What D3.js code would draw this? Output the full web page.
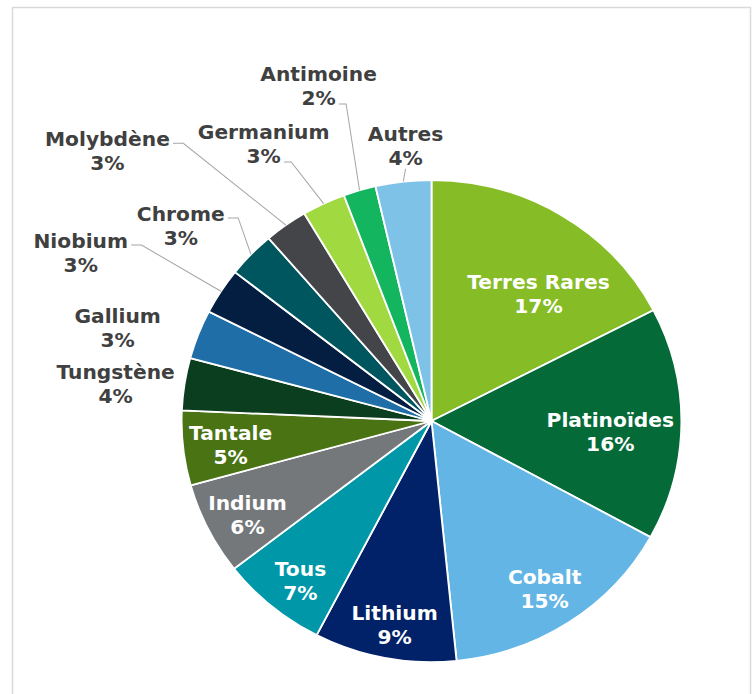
<!DOCTYPE html>
<html>
<head>
<meta charset="utf-8">
<script src="https://cdn.jsdelivr.net/npm/d3@7"></script>
<style>
  html, body { margin: 0; padding: 0; background: #fff; }
  svg text { font-family: Verdana, "DejaVu Sans", sans-serif; font-weight: bold; }
</style>
</head>
<body>
<svg id="chart" width="753" height="694"></svg>
<script>
// Répartition par métal (parts en %)
const names = ["Terres Rares", "Platinoïdes", "Cobalt", "Lithium", "Tous", "Indium",
  "Tantale", "Tungstène", "Gallium", "Niobium", "Chrome", "Molybdène",
  "Germanium", "Antimoine", "Autres"];
const values = [17.4, 15.6, 15.4, 9.2, 6.9, 6.2, 5.0, 3.5, 3.3, 3.1, 3.1, 2.8, 2.8, 2.1, 3.6];
const colors = ["#86bc25", "#046a38", "#62b5e5", "#012169", "#0097a9", "#75787b",
  "#4a7314", "#0b3d1f", "#1f6ea8", "#041e42", "#00565f", "#434548",
  "#a0d940", "#13b55f", "#7fc2e8"];

// label placement: angle (deg, clockwise from top) and radius factor
const labelLayout = {
  "Terres Rares": { a: 39.0, r: 0.68, inside: true },
  "Platinoïdes": { a: 93.6, r: 0.717, inside: true },
  "Cobalt": { a: 147.0, r: 0.831, inside: true },
  "Lithium": { a: 189.9, r: 0.859, inside: true },
  "Tous": { a: 218.3, r: 0.846, inside: true },
  "Indium": { a: 242.1, r: 0.833, inside: true },
  "Tantale": { a: 262.9, r: 0.81, inside: true },
  "Tungstène": { a: 276.9, r: 1.273, leader: false },
  "Gallium": { a: 287.1, r: 1.314, leader: false },
  "Niobium": { a: 296.4, r: 1.567, leader: true },
  "Chrome": { a: 308.9, r: 1.289, leader: true },
  "Molybdène": { a: 310.8, r: 1.713, leader: true },
  "Germanium": { a: 329.7, r: 1.331, leader: true },
  "Antimoine": { a: 342.0, r: 1.462, leader: true },
  "Autres": { a: 354.8, r: 1.146, leader: true },
};

const data = names.map((n, i) => ({ name: n, value: values[i], color: colors[i] }));

const radius = 241;
const stretchX = 1.037;
const fontSize = 19.5;
const lineGap = 12;

const svg = d3.select("#chart");

// chart frame
svg.append("rect")
  .attr("x", 12.5).attr("y", 7.5)
  .attr("width", 738).attr("height", 720)
  .attr("fill", "#fff")
  .attr("stroke", "#d9d9d9")
  .attr("stroke-width", 1.5);

const g = svg.append("g")
  .attr("transform", `translate(431.5,421) scale(${stretchX},1)`);

const pie = d3.pie().sort(null).value(d => d.value);
const arc = d3.arc().innerRadius(0).outerRadius(radius);
const arcs = pie(data);

g.selectAll("path.slice")
  .data(arcs)
  .join("path")
  .attr("class", "slice")
  .attr("d", arc)
  .attr("fill", d => d.data.color)
  .attr("stroke", "#fff")
  .attr("stroke-width", 1.8);

function polar(angleRad, r) {
  return [r * Math.sin(angleRad), -r * Math.cos(angleRad)];
}

const fmt = v => Math.round(v) + "%";

const labels = g.selectAll("g.label")
  .data(arcs)
  .join("g")
  .attr("class", "label")
  .each(function (d) {
    const lay = labelLayout[d.data.name];
    const [x, y] = polar(lay.a * Math.PI / 180, lay.r * radius);
    d.lx = x; d.ly = y;
    const el = d3.select(this);
    const fill = lay.inside ? "#ffffff" : "#404040";
    const t1 = el.append("text")
      .attr("x", x).attr("y", y - lineGap)
      .attr("dy", "0.36em")
      .attr("text-anchor", "middle")
      .attr("font-size", fontSize)
      .attr("fill", fill)
      .text(d.data.name);
    const t2 = el.append("text")
      .attr("x", x).attr("y", y + lineGap)
      .attr("dy", "0.36em")
      .attr("text-anchor", "middle")
      .attr("font-size", fontSize)
      .attr("fill", fill)
      .text(fmt(d.data.value));

    if (!lay.leader) return;

    // leader line to the outer edge of the slice
    const mid = (d.startAngle + d.endAngle) / 2;
    const [tx, ty] = polar(mid, radius);
    const nameRight = x + t1.node().getComputedTextLength() / 2;
    const pctRight = x + t2.node().getComputedTextLength() / 2;
    let pathD;
    if (nameRight + 4 < tx) {
      const ay = y - lineGap + 4;
      pathD = `M${nameRight + 3},${ay} H${nameRight + 13} L${tx},${ty}`;
    } else if (pctRight + 4 < tx) {
      const ay = y + lineGap + 6;
      pathD = `M${pctRight + 3},${ay} H${pctRight + 10} L${tx},${ty}`;
    } else {
      pathD = `M${x},${y + lineGap + 11} L${tx},${ty}`;
    }
    g.append("path")
      .attr("d", pathD)
      .attr("fill", "none")
      .attr("stroke", "#a6a6a6")
      .attr("stroke-width", 1);
  });
</script>
</body>
</html>
